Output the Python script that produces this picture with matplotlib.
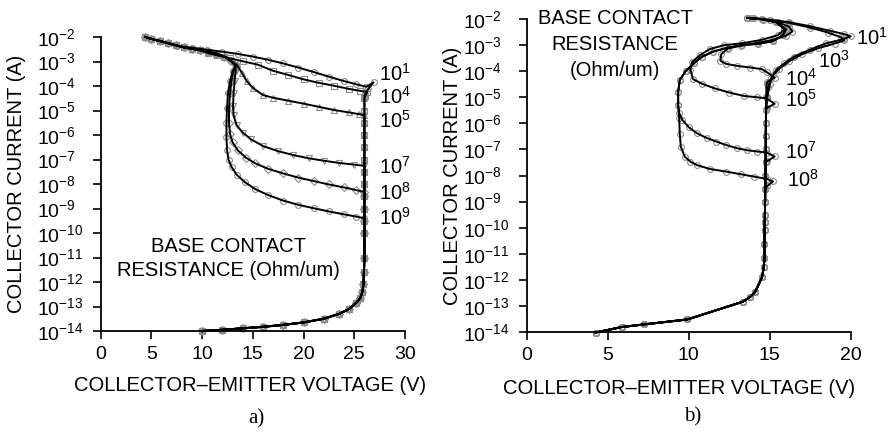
import numpy as np
import matplotlib
matplotlib.use("Agg")
import matplotlib.pyplot as plt
from matplotlib.ticker import NullLocator

plt.rcParams["font.family"] = ["Liberation Sans", "DejaVu Sans"]
plt.rcParams["mathtext.fontset"] = "custom"
plt.rcParams["mathtext.rm"] = "Liberation Sans"
plt.rcParams["mathtext.it"] = "Liberation Sans:italic"
plt.rcParams["mathtext.bf"] = "Liberation Sans:bold"

TEXT_SIZE = 14.5
TICK_SIZE = 14

# ---------------- panel a) : exponents are log10 of collector current (A) ----------------
# shared high-current branch (from the top end downward)
a_high_v = [4.4, 5.0, 5.8, 6.6, 7.4, 8.2, 9.0, 9.8, 10.6, 11.4, 12.2, 12.8, 13.3]
a_high_logi = [-2.00, -2.08, -2.16, -2.25, -2.34, -2.42, -2.48, -2.54, -2.60, -2.68, -2.80, -2.96, -3.18]

# shared breakdown / low-current branch
a_low_v = [26.0, 26.0, 26.0, 26.0, 26.0, 26.0, 26.0, 26.0, 26.0, 26.0, 26.0, 26.0, 26.0,
           25.95, 25.9, 25.8, 25.6, 25.2, 24.5, 23.5, 22.0, 20.0, 18.0, 16.0, 14.0, 12.0, 10.0]
a_low_logi = [-4.5, -5.0, -5.5, -6.0, -6.5, -7.0, -7.5, -8.0, -8.5, -9.0, -9.5, -10.0, -11.0,
              -11.6, -12.1, -12.4, -12.65, -12.85, -13.1, -13.3, -13.5, -13.65, -13.75, -13.83, -13.89, -13.95, -14.0]

a_r1_v = [7.5, 9.0, 10.5, 12.0, 13.5, 15.0, 16.5, 18.0, 19.5, 21.0, 22.5, 24.0, 25.2, 26.2, 26.9, 26.4, 26.0]
a_r1_logi = [-2.36, -2.44, -2.52, -2.60, -2.69, -2.80, -2.93, -3.08, -3.25, -3.43, -3.62, -3.80, -3.93, -4.03, -3.85, -4.10, -4.40]

a_r4_v = [10.6, 11.5, 12.75, 14.0, 15.5, 17.0, 18.5, 20.0, 21.5, 23.0, 24.5, 25.6, 26.3, 26.1]
a_r4_logi = [-2.66, -2.75, -2.87, -2.99, -3.13, -3.38, -3.55, -3.73, -3.87, -3.99, -4.12, -4.20, -4.25, -4.40]

a_r5_v = [13.4, 13.9, 14.4, 15.0, 16.0, 17.0, 18.5, 20.0, 21.5, 23.0, 24.5, 25.5, 26.0]
a_r5_logi = [-3.12, -3.45, -3.80, -4.08, -4.37, -4.48, -4.60, -4.72, -4.85, -4.98, -5.08, -5.15, -5.20]

a_r7_v = [13.3, 13.2, 13.1, 13.05, 13.1, 13.4, 14.0, 14.8, 16.0, 17.5, 19.0, 20.5, 22.0, 23.5, 25.0, 26.0]
a_r7_logi = [-3.40, -3.80, -4.30, -4.80, -5.20, -5.60, -5.90, -6.17, -6.45, -6.66, -6.82, -6.95, -7.05, -7.14, -7.21, -7.26]

a_r8_v = [13.1, 12.9, 12.75, 12.65, 12.65, 12.75, 13.0, 13.5, 14.3, 15.2, 16.5, 18.0, 19.5, 21.0, 22.5, 24.0, 25.2, 26.0]
a_r8_logi = [-3.40, -3.80, -4.30, -4.90, -5.50, -5.95, -6.30, -6.62, -6.92, -7.15, -7.38, -7.57, -7.74, -7.88, -8.02, -8.14, -8.25, -8.33]

a_r9_v = [13.0, 12.75, 12.55, 12.45, 12.4, 12.4, 12.45, 12.6, 12.9, 13.4, 14.2, 15.2, 16.5, 18.0, 19.5, 21.0, 22.5, 24.0, 25.2, 26.0]
a_r9_logi = [-3.40, -3.80, -4.30, -4.90, -5.50, -6.10, -6.60, -7.00, -7.30, -7.62, -7.92, -8.20, -8.45, -8.68, -8.85, -8.99, -9.12, -9.24, -9.33, -9.40]

a_labels = ["$10^{1}$", "$10^{4}$", "$10^{5}$", "$10^{7}$", "$10^{8}$", "$10^{9}$"]
a_label_logi = [-3.50, -4.45, -5.42, -7.31, -8.37, -9.38]

# ---------------- panel b) ----------------
b_low_v = [14.8, 14.78, 14.77, 14.76, 14.75, 14.75, 14.74, 14.73, 14.72, 14.71, 14.7, 14.69, 14.68,
           14.67, 14.67, 14.63, 14.52, 14.1, 13.8, 13.33, 9.9, 7.22, 5.85, 4.24]
b_low_logi = [-4.5, -5.0, -5.5, -6.0, -6.5, -7.0, -7.5, -8.0, -8.5, -9.0, -9.5, -9.8, -10.1,
              -10.62, -11.16, -11.51, -11.9, -12.46, -12.65, -12.84, -13.52, -13.71, -13.81, -14.02]

b_r1_v = [14.0, 15.0, 16.2, 17.5, 18.7, 19.6, 20.0, 19.5, 18.5, 17.5, 16.5, 15.9, 15.4, 15.1, 14.9, 14.8]
b_r1_logi = [-1.97, -2.03, -2.12, -2.28, -2.45, -2.58, -2.67, -2.78, -2.93, -3.17, -3.44, -3.70, -3.95, -4.25, -4.60, -5.0]

b_r3_v = [13.9, 15.0, 16.2, 17.5, 18.6, 19.4, 19.6, 19.0, 18.0, 17.0, 16.2, 15.6, 15.2, 15.0, 14.85]
b_r3_logi = [-1.97, -2.05, -2.15, -2.33, -2.52, -2.70, -2.82, -2.94, -3.12, -3.35, -3.62, -3.90, -4.15, -4.50, -5.0]

b_r4_v = [13.7, 14.6, 15.5, 16.2, 16.4, 16.0, 15.2, 14.2, 13.2, 12.4, 12.0, 11.95, 12.3, 13.0, 13.8, 14.5, 14.85, 15.3, 14.85]
b_r4_logi = [-1.96, -2.02, -2.12, -2.30, -2.48, -2.64, -2.80, -2.92, -3.02, -3.14, -3.35, -3.60, -3.72, -3.80, -3.86, -3.92, -4.05, -4.25, -4.40]

b_r5_v = [13.6, 14.6, 15.4, 15.9, 15.5, 14.5, 13.3, 12.2, 11.3, 10.7, 10.2, 10.1, 10.25, 10.8, 11.6, 12.5, 13.4, 14.2, 14.8, 15.3, 14.85]
b_r5_logi = [-1.96, -2.02, -2.12, -2.40, -2.62, -2.80, -2.93, -3.00, -3.15, -3.38, -3.65, -3.95, -4.30, -4.48, -4.66, -4.82, -4.95, -5.00, -5.04, -5.25, -5.40]

# outer loop shared by the two highest resistances
b_outer_v = [13.6, 14.5, 15.4, 16.0, 15.8, 15.2, 14.3, 13.3, 12.4, 11.5, 10.8, 10.3, 9.8, 9.44, 9.34, 9.34]
b_outer_logi = [-1.96, -2.00, -2.12, -2.40, -2.62, -2.85, -2.95, -3.00, -3.10, -3.25, -3.45, -3.70, -4.00, -4.34, -4.80, -5.30]

b_r7_v = [9.4, 9.6, 10.0, 10.5, 11.1, 11.7, 12.3, 12.95, 13.6, 14.2, 14.8, 15.3, 14.85]
b_r7_logi = [-5.6, -5.87, -6.15, -6.38, -6.56, -6.70, -6.83, -6.95, -7.03, -7.08, -7.12, -7.27, -7.45]

b_r8_v = [9.4, 9.44, 9.5, 9.75, 10.1, 10.5, 11.3, 12.3, 13.2, 14.0, 14.8, 15.2, 14.85]
b_r8_logi = [-5.8, -6.4, -6.89, -7.28, -7.47, -7.60, -7.75, -7.85, -7.95, -8.04, -8.13, -8.23, -8.40]

b_labels = ["$10^{1}$", "$10^{3}$", "$10^{4}$", "$10^{5}$", "$10^{7}$", "$10^{8}$"]
b_label_v = [20.3, 18.0, 15.95, 15.95, 15.95, 16.07]
b_label_logi = [-2.73, -3.62, -4.28, -5.10, -7.10, -8.17]


def join(segments):
    v = np.concatenate([np.asarray(s[0], float) for s in segments])
    e = np.concatenate([np.asarray(s[1], float) for s in segments])
    return v, 10.0 ** e


def tail(v, e, below):
    v = np.asarray(v, float)
    e = np.asarray(e, float)
    keep = e < below
    return v[keep], e[keep]


def draw(ax, v, i, marker):
    ax.plot(v, i, linestyle="none", marker=marker, ms=4.2, mfc="none",
            mec="0.55", mew=0.8, zorder=2, clip_on=False)
    ax.plot(v, i, color="black", lw=1.4, zorder=3, clip_on=False)


def style(ax, xmax):
    ax.set_yscale("log")
    ax.set_ylim(1e-14, 1e-2)
    ax.set_xlim(0, xmax)
    ax.set_xticks(np.arange(0, xmax + 1, 5))
    exps = np.arange(-14, -1)
    ax.set_yticks(10.0 ** exps)
    ax.set_yticklabels([f"$10^{{{k}}}$" for k in exps])
    ax.yaxis.set_minor_locator(NullLocator())
    for s in ("top", "right"):
        ax.spines[s].set_visible(False)
    for s in ("left", "bottom"):
        ax.spines[s].set_linewidth(1.3)
    ax.tick_params(direction="out", length=6, width=1.2, labelsize=TICK_SIZE)
    ax.tick_params(axis="x", pad=5)
    ax.tick_params(axis="y", pad=40)
    for lab in ax.get_yticklabels():
        lab.set_horizontalalignment("left")


W, H = 888, 436
fig = plt.figure(figsize=(W / 100, H / 100), dpi=100)
axa = fig.add_axes([100.7 / W, 1 - 331 / H, 304.3 / W, 294 / H])
axb = fig.add_axes([527 / W, 1 - 332 / H, 323.7 / W, 313 / H])

# panel a curves
a_curves = [
    (4, a_r1_v, a_r1_logi, "o"),
    (8, a_r4_v, a_r4_logi, "s"),
    (11, a_r5_v, a_r5_logi, "^"),
    (13, a_r7_v, a_r7_logi, "v"),
    (13, a_r8_v, a_r8_logi, "D"),
    (13, a_r9_v, a_r9_logi, "o"),
]
for cut, bv, be, mk in a_curves:
    lv, le = tail(a_low_v, a_low_logi, be[-1])
    v, i = join([(a_high_v[:cut], a_high_logi[:cut]), (bv, be), (lv, le)])
    draw(axa, v, i, mk)

for txt, e in zip(a_labels, a_label_logi):
    axa.text(27.4, 10.0 ** e, txt, fontsize=TEXT_SIZE, ha="left", va="center")

# panel b curves
b_curves = [
    [(b_r1_v, b_r1_logi)],
    [(b_r3_v, b_r3_logi)],
    [(b_r4_v, b_r4_logi)],
    [(b_r5_v, b_r5_logi)],
    [(b_outer_v, b_outer_logi), (b_r7_v, b_r7_logi)],
    [(b_outer_v, b_outer_logi), (b_r8_v, b_r8_logi)],
]
for segs in b_curves:
    last = segs[-1][1][-1]
    lv, le = tail(b_low_v, b_low_logi, last)
    v, i = join(segs + [(lv, le)])
    draw(axb, v, i, "o")

for txt, xv, e in zip(b_labels, b_label_v, b_label_logi):
    axb.text(xv, 10.0 ** e, txt, fontsize=TEXT_SIZE, ha="left", va="center")

style(axa, 30)
style(axb, 20)

# axis titles and annotations
fig.text(17 / W, 1 - 184 / H, "COLLECTOR CURRENT (A)", rotation=90, fontsize=TEXT_SIZE,
         ha="center", va="center")
fig.text(453 / W, 1 - 176 / H, "COLLECTOR CURRENT (A)", rotation=90, fontsize=TEXT_SIZE,
         ha="center", va="center")
fig.text(250 / W, 1 - 385 / H, "COLLECTOR\u2013EMITTER VOLTAGE (V)", fontsize=TEXT_SIZE,
         ha="center", va="center")
fig.text(679 / W, 1 - 388 / H, "COLLECTOR\u2013EMITTER VOLTAGE (V)", fontsize=TEXT_SIZE,
         ha="center", va="center")

fig.text(228 / W, 1 - 246 / H, "BASE CONTACT", fontsize=TEXT_SIZE, ha="center", va="center")
fig.text(228 / W, 1 - 271 / H, "RESISTANCE (Ohm/um)", fontsize=TEXT_SIZE, ha="center", va="center")
fig.text(615 / W, 1 - 19 / H, "BASE CONTACT", fontsize=TEXT_SIZE, ha="center", va="center")
fig.text(615 / W, 1 - 45 / H, "RESISTANCE", fontsize=TEXT_SIZE, ha="center", va="center")
fig.text(615 / W, 1 - 70 / H, "(Ohm/um)", fontsize=TEXT_SIZE, ha="center", va="center")

fig.text(256 / W, 1 - 419 / H, "a)", fontsize=15, family="Liberation Serif",
         ha="center", va="center")
fig.text(693 / W, 1 - 417 / H, "b)", fontsize=15, family="Liberation Serif",
         ha="center", va="center")

fig.savefig("out.png", dpi=100)
